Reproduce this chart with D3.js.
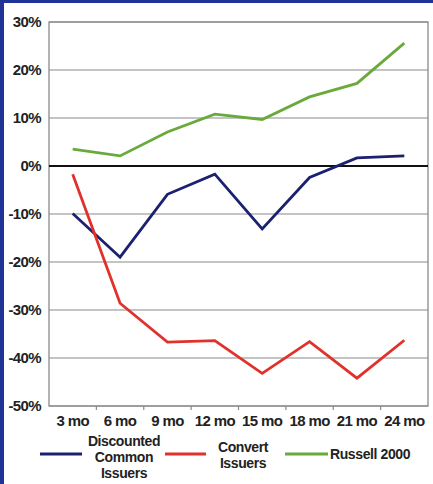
<!DOCTYPE html>
<html><head><meta charset="utf-8">
<script src="https://cdn.jsdelivr.net/npm/d3@7"></script>
<style>body{margin:0;background:#fff;}svg{display:block;font-family:"Liberation Sans",Arial,sans-serif;}</style>
</head><body>
<svg id="c" width="433" height="484"></svg>
<script>
const categories = ["3 mo","6 mo","9 mo","12 mo","15 mo","18 mo","21 mo","24 mo"];
const discounted = [-9.9,-19.0,-5.9,-1.7,-13.1,-2.4,1.7,2.1];
const convert = [-1.7,-28.6,-36.7,-36.4,-43.2,-36.6,-44.2,-36.3];
const russell = [3.5,2.1,7.1,10.8,9.7,14.4,17.2,25.6];
const yTicks = [30,20,10,0,-10,-20,-30,-40,-50];
const seriesNames = [["Discounted","Common","Issuers"],["Convert","Issuers"],["Russell 2000"]];
const colors = ["#1b2070","#e0312b","#6aaa3c"];

const svg = d3.select("#c");
svg.append("rect").attr("x",0).attr("y",0).attr("width",4).attr("height",484).attr("fill","#1f3494");
svg.append("rect").attr("x",0).attr("y",0).attr("width",433).attr("height",3).attr("fill","#1f3494");

const L=49,R=428,T=22,B=406;
const x = d3.scaleBand().domain(categories).range([L,R]);
const y = d3.scaleLinear().domain([-50,30]).range([B,T]);
const FS = 15, LS = "-0.6";

svg.append("g").selectAll("line").data(yTicks.filter(d=>d!==0)).join("line")
  .attr("x1",L).attr("x2",R).attr("y1",d=>y(d)).attr("y2",d=>y(d))
  .attr("stroke","#8a8a8a").attr("stroke-width",1.2);
svg.append("rect").attr("x",L).attr("y",T).attr("width",R-L).attr("height",B-T)
  .attr("fill","none").attr("stroke","#8a8a8a").attr("stroke-width",1.3);
svg.append("line").attr("x1",L).attr("x2",R).attr("y1",y(0)).attr("y2",y(0))
  .attr("stroke","#111").attr("stroke-width",2.2);

const yAxis = d3.axisLeft(y).tickValues(yTicks).tickFormat(d=>d+"%").tickSize(0).tickPadding(8);
const ga = svg.append("g").attr("transform",`translate(${L},0)`).call(yAxis);
ga.select(".domain").remove();
ga.selectAll("text").attr("font-size",FS).attr("font-weight","bold").attr("fill","#222")
  .attr("font-family","'Liberation Sans',Arial,sans-serif").attr("letter-spacing",LS);

const xAxis = d3.axisBottom(x).tickSize(0).tickPadding(9);
const gx = svg.append("g").attr("transform",`translate(0,${B})`).call(xAxis);
gx.select(".domain").remove();
gx.selectAll("text").attr("font-size",FS).attr("font-weight","bold").attr("fill","#222")
  .attr("font-family","'Liberation Sans',Arial,sans-serif").attr("letter-spacing",LS);
svg.append("g").selectAll("line").data(categories.slice(1)).join("line")
  .attr("x1",d=>x(d)).attr("x2",d=>x(d)).attr("y1",B).attr("y2",B+4)
  .attr("stroke","#8a8a8a").attr("stroke-width",1.2);

const line = d3.line().x((d,i)=>x(categories[i])+x.bandwidth()/2).y(d=>y(d));
[discounted,convert,russell].forEach((s,i)=>{
  svg.append("path").datum(s).attr("d",line).attr("fill","none")
    .attr("stroke",colors[i]).attr("stroke-width",2.8).attr("stroke-linejoin","miter");
});

const leg = [
  {x1:40,x2:82,tx:124,anchor:"middle",lines:seriesNames[0],y0:446},
  {x1:165,x2:206,tx:243,anchor:"middle",lines:seriesNames[1],y0:452},
  {x1:285,x2:328,tx:330,anchor:"start",lines:seriesNames[2],y0:459}
];
leg.forEach((l,i)=>{
  svg.append("line").attr("x1",l.x1).attr("x2",l.x2).attr("y1",454).attr("y2",454)
    .attr("stroke",colors[i]).attr("stroke-width",3);
  l.lines.forEach((s,j)=>{
    svg.append("text").attr("x",l.tx).attr("y",l.y0+j*16).attr("text-anchor",l.anchor)
      .attr("font-size",14).attr("font-weight","bold").attr("fill","#222").attr("letter-spacing","-0.4")
      .text(s);
  });
});
</script>
</body></html>
